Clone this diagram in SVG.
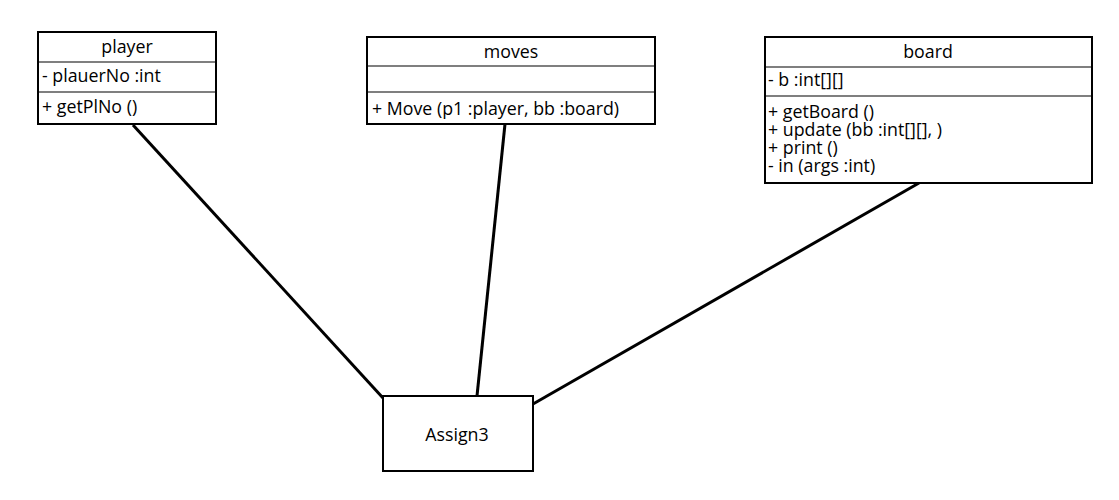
<svg xmlns="http://www.w3.org/2000/svg" width="1119" height="500" viewBox="0 0 1119 500">
<style>
.box{fill:#fff;stroke:#000;stroke-width:2}
.div{stroke:#000;stroke-width:1.2}
.t{font-family:"Open Sans","Noto Sans",sans-serif;font-size:17.8px;fill:#000}
.c{text-anchor:middle}
.e{stroke:#000;stroke-width:3;fill:none}
</style>
<rect width="1119" height="500" fill="#fff"/>
<g id="connectors">
<line class="e" x1="133" y1="125" x2="383" y2="398"/>
<line class="e" x1="505" y1="124" x2="477" y2="396"/>
<line class="e" x1="919" y1="183" x2="533" y2="404"/>
</g>
<g id="player">
<rect class="box" x="38" y="32" width="178" height="92"/>
<line class="div" x1="38" y1="62" x2="216" y2="62"/>
<line class="div" x1="38" y1="92" x2="216" y2="92"/>
<text class="t c" x="127" y="53">player</text>
<text class="t" x="42" y="82">- plauerNo :int</text>
<text class="t" x="42" y="113">+ getPlNo ()</text>
</g>
<g id="moves">
<rect class="box" x="367" y="37" width="288" height="87"/>
<line class="div" x1="367" y1="66" x2="655" y2="66"/>
<line class="div" x1="367" y1="92" x2="655" y2="92"/>
<text class="t c" x="511" y="58">moves</text>
<text class="t" x="372" y="115">+ Move (p1 :player, bb :board)</text>
</g>
<g id="board">
<rect class="box" x="765" y="37" width="327" height="146"/>
<line class="div" x1="765" y1="67" x2="1092" y2="67"/>
<line class="div" x1="765" y1="96" x2="1092" y2="96"/>
<text class="t c" x="928" y="58">board</text>
<text class="t" x="768" y="86">- b :int[][]</text>
<text class="t" x="768" y="118">+ getBoard ()</text>
<text class="t" x="768" y="136">+ update (bb :int[][], )</text>
<text class="t" x="768" y="154">+ print ()</text>
<text class="t" x="768" y="172">- in (args :int)</text>
</g>
<g id="assign3">
<rect class="box" x="383" y="396" width="150" height="75"/>
<text class="t c" x="457" y="441">Assign3</text>
</g>
</svg>
